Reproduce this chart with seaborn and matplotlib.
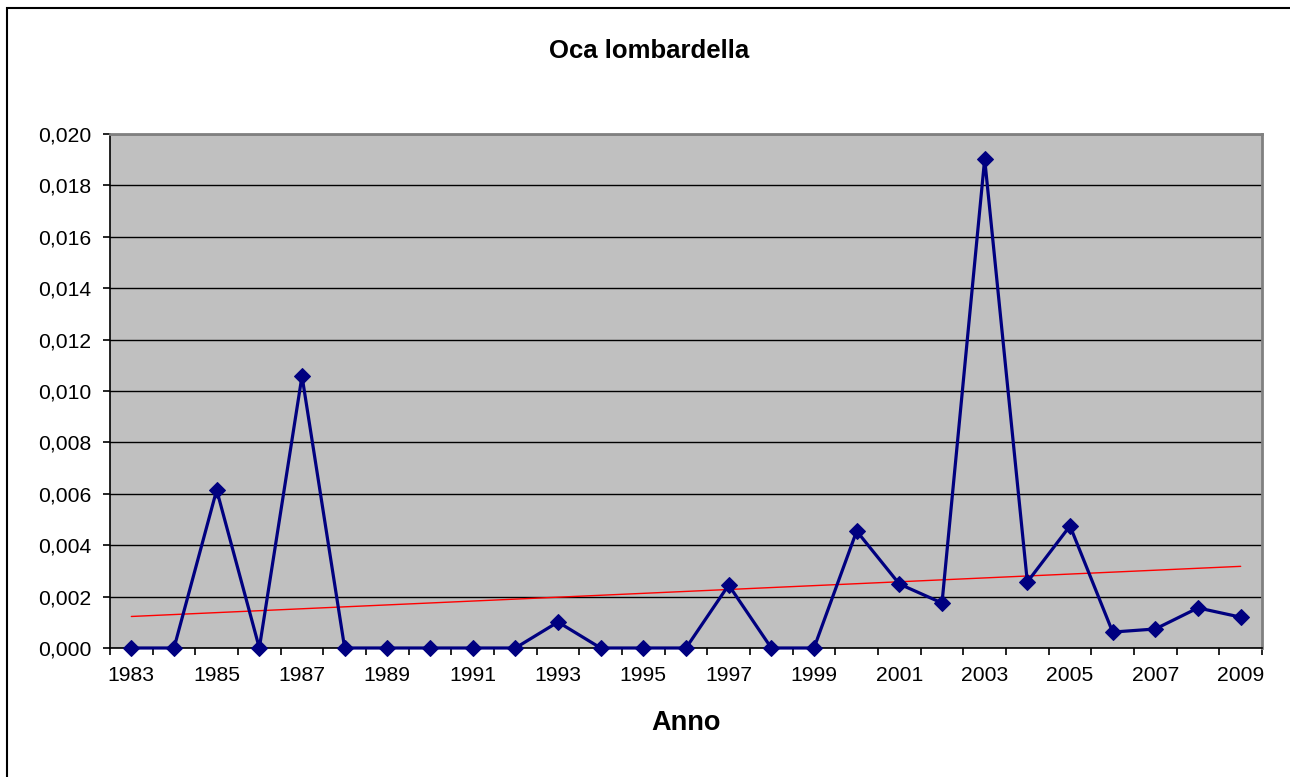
import numpy as np
import pandas as pd
import matplotlib
matplotlib.use("Agg")
import matplotlib.pyplot as plt
import matplotlib.patches as patches
from matplotlib.ticker import FixedLocator, FuncFormatter
import seaborn as sns

years = list(range(1983, 2010))
values = [0.0, 0.0, 0.00615, 0.0, 0.01058, 0.0, 0.0, 0.0, 0.0, 0.0,
          0.00101, 0.0, 0.0, 0.0, 0.00245, 0.0, 0.0, 0.00455, 0.00249, 0.00175,
          0.01903, 0.00257, 0.00475, 0.00062, 0.00074, 0.00156, 0.0012]
label_years = years[::2]
y_ticks = [0.000, 0.002, 0.004, 0.006, 0.008, 0.010, 0.012, 0.014, 0.016, 0.018, 0.020]

title = "Oca lombardella"
x_label = "Anno"

df = pd.DataFrame({"Anno": years, "valore": values})

sns.set_style("white")
plt.rcParams["font.family"] = ["Liberation Sans", "DejaVu Sans"]
plt.rcParams["text.color"] = "black"
plt.rcParams["xtick.color"] = "black"
plt.rcParams["ytick.color"] = "black"
plt.rcParams["axes.labelcolor"] = "black"

fig = plt.figure(figsize=(12.9, 7.77), dpi=100)
ax = fig.add_axes([110 / 1290, 1 - 648 / 777, 1152 / 1290, 514 / 777])
ax.set_facecolor("#C0C0C0")

# chart-area frame (Excel style, cut off on right/bottom)
fig.patches.append(patches.Rectangle((6.5 / 1290, -0.02), 1.05, 1 - 7.5 / 777 + 0.02,
                                     transform=fig.transFigure, fill=False,
                                     edgecolor="black", linewidth=1.5))

# linear trend
sns.regplot(data=df, x="Anno", y="valore", ax=ax, scatter=False, ci=None,
            line_kws={"color": "#FF0000", "linewidth": 1.0, "zorder": 3})

sns.lineplot(data=df, x="Anno", y="valore", ax=ax, color="#000080",
             linewidth=2.3, marker="D", markersize=7.8,
             markeredgecolor="#000080", markerfacecolor="#000080", zorder=4,
             clip_on=False)

ax.set_xlim(years[0] - 0.5, years[-1] + 0.5)
ax.set_ylim(y_ticks[0], y_ticks[-1])

ax.yaxis.set_major_locator(FixedLocator(y_ticks))
ax.yaxis.set_major_formatter(FuncFormatter(lambda v, p: f"{v:.3f}".replace(".", ",")))
ax.grid(axis="y", color="black", linewidth=1.0, zorder=1)
ax.set_axisbelow(True)

ax.xaxis.set_major_locator(FixedLocator([y - 0.5 for y in years] + [years[-1] + 0.5]))
ax.xaxis.set_major_formatter(FuncFormatter(lambda v, p: ""))
ax.xaxis.set_minor_locator(FixedLocator(label_years))
ax.xaxis.set_minor_formatter(FuncFormatter(lambda v, p: f"{int(round(v))}"))

ax.tick_params(axis="x", which="major", direction="out", length=5, width=1.2,
               color="black", bottom=True)
ax.tick_params(axis="x", which="minor", length=0, pad=13, labelsize=15.2,
               bottom=True)
ax.tick_params(axis="y", which="major", direction="out", length=5, width=1.2,
               color="black", pad=8.5, labelsize=15.2, left=True)

for side in ["left", "bottom"]:
    ax.spines[side].set_color("black")
    ax.spines[side].set_linewidth(1.2)
for side in ["top", "right"]:
    ax.spines[side].set_color("#808080")
    ax.spines[side].set_linewidth(2.0)

ax.set_ylabel("")
ax.set_xlabel(x_label, fontsize=19.5, fontweight="bold")
ax.xaxis.set_label_coords(0.5, -0.146)
ax.xaxis.label.set_va("center")

fig.text(0.503, 1 - 51 / 777, title, ha="center", va="center",
         fontsize=18.5, fontweight="bold")

fig.savefig("out.png", dpi=100, facecolor="white")
